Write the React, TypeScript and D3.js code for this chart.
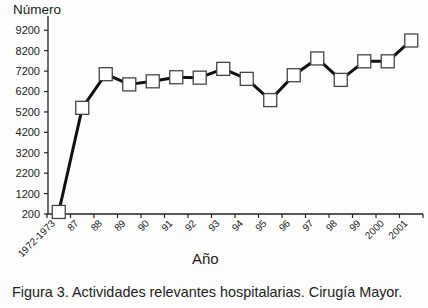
import React from "react";
import * as d3 from "d3";

const categories = ["1972-1973", "87", "88", "89", "90", "91", "92", "93", "94", "95", "96", "97", "98", "99", "2000", "2001"];
const values = [300, 5400, 7050, 6550, 6700, 6900, 6880, 7310, 6820, 5780, 7000, 7820, 6770, 7680, 7680, 8700];
const yTicks = [200, 1200, 2200, 3200, 4200, 5200, 6200, 7200, 8200, 9200];

const W = 428, H = 308;
const FONT = "'Liberation Sans', Arial, Helvetica, sans-serif";

export default function App() {
  const x = d3.scaleBand<string>().domain(categories).range([47, 423]).padding(0);
  const y = d3.scaleLinear().domain([200, 9900]).range([214, 16]);
  const y0 = y(200);
  const line = d3.line<number>()
    .x((_, i) => (x(categories[i]) as number) + x.bandwidth() / 2)
    .y((d) => y(d));
  const bounds = [...categories.map((c) => x(c) as number), (x(categories[categories.length - 1]) as number) + x.bandwidth()];
  const sq = 13;
  return (
    <svg width={W} height={H} style={{ position: "absolute", left: 0, top: 0, background: "#fff" }} fontFamily={FONT}>
      <rect width={W} height={H} fill="#fdfdfd" />
      {/* y axis */}
      <line x1={48} x2={48} y1={y(9900)} y2={y0} stroke="#222" strokeWidth={1.3} />
      {yTicks.map((t) => (
        <g key={t}>
          <line x1={44} x2={48} y1={y(t)} y2={y(t)} stroke="#222" strokeWidth={1.2} />
          <text x={40} y={y(t)} dy="0.36em" textAnchor="end" fontSize={11} fill="#222">{t}</text>
        </g>
      ))}
      {/* x axis */}
      <line x1={bounds[0]} x2={bounds[bounds.length - 1]} y1={y0} y2={y0} stroke="#222" strokeWidth={1.3} />
      {bounds.map((b, i) => (
        <line key={i} x1={b} x2={b} y1={y0} y2={y0 + 4} stroke="#222" strokeWidth={1.2} />
      ))}
      {categories.map((c) => {
        const cx = (x(c) as number) + x.bandwidth() / 2;
        return (
          <text key={c} transform={`translate(${cx - 3},${y0 + 10}) rotate(-45)`} textAnchor="end" fontSize={10} fill="#222">{c}</text>
        );
      })}
      <path d={line(values) as string} fill="none" stroke="#111" strokeWidth={3} strokeLinejoin="round" />
      {values.map((v, i) => {
        const cx = (x(categories[i]) as number) + x.bandwidth() / 2;
        return <rect key={i} x={cx - sq / 2} y={y(v) - sq / 2} width={sq} height={sq} fill="#fff" stroke="#444" strokeWidth={1.3} />;
      })}
      <text x={13} y={14} fontSize={13.5} fill="#222">Número</text>
      <text x={192} y={264} fontSize={15} fill="#222">Año</text>
      <text x={12} y={297} fontSize={14.4} fill="#222">Figura 3. Actividades relevantes hospitalarias. Cirugía Mayor.</text>
    </svg>
  );
}
